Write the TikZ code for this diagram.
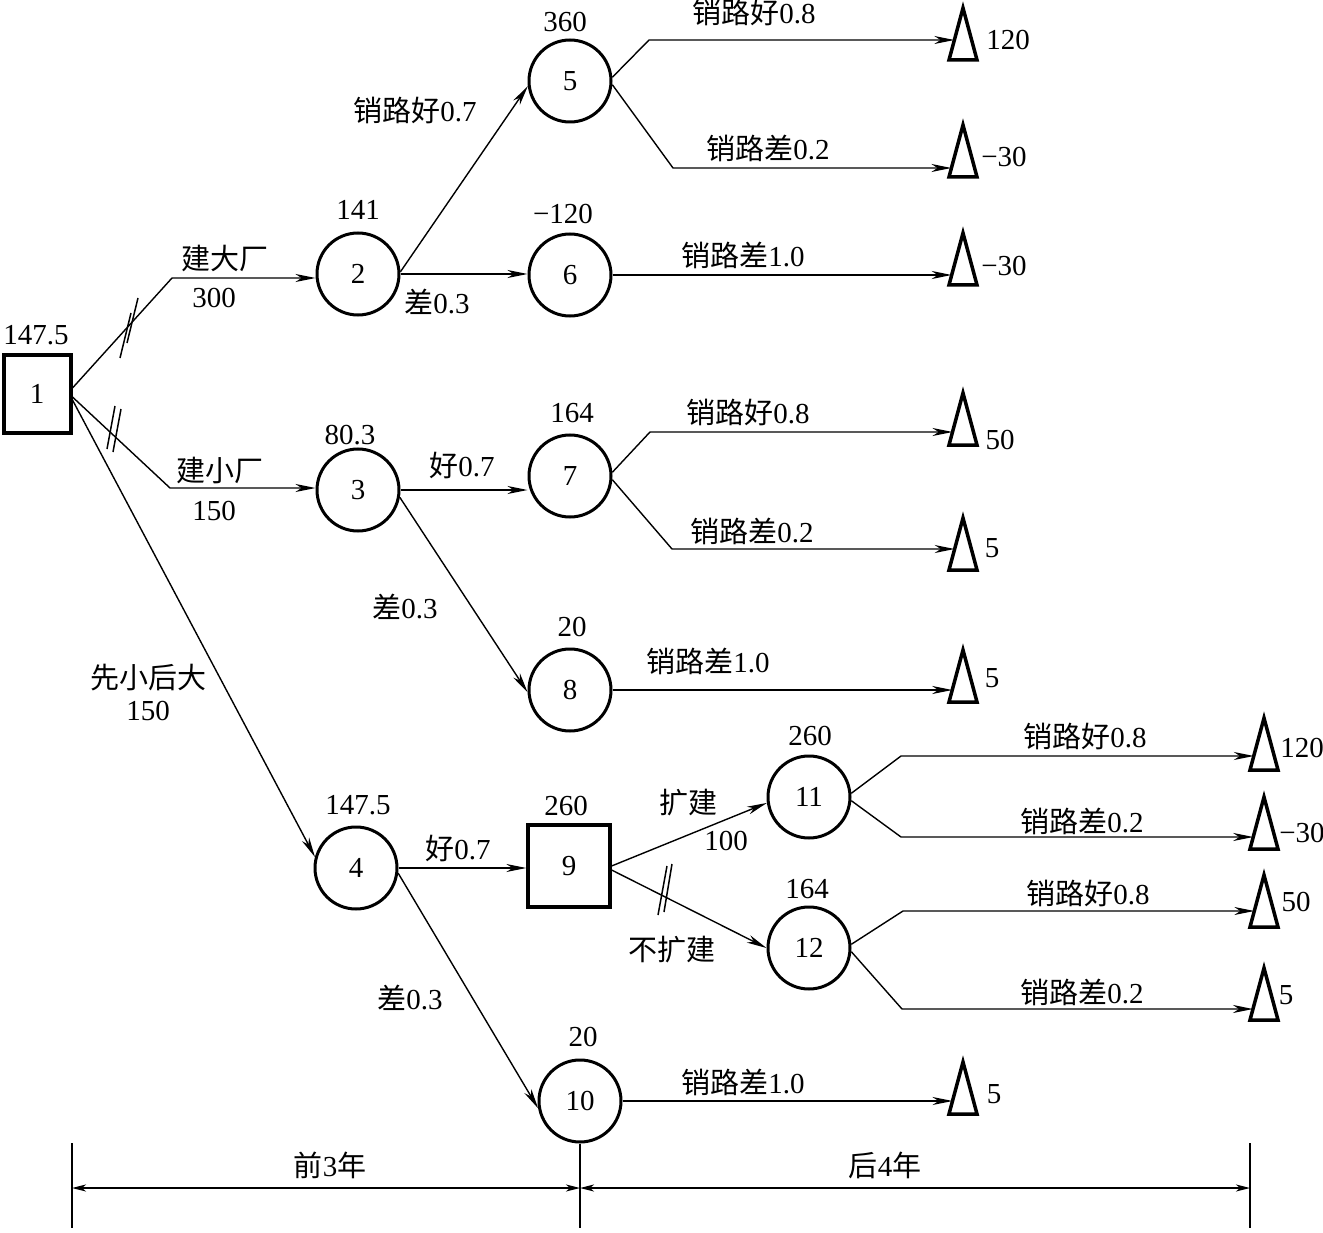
\documentclass[tikz,border=0pt]{standalone}
\usepackage{fontspec}
\setmainfont{Liberation Serif}
\newfontfamily\cjk{Noto Sans CJK SC}
\usetikzlibrary{shapes.geometric,arrows.meta,calc}
\begin{document}
\begin{tikzpicture}[x=1pt,y=-1pt,
  txt/.style={inner sep=0pt,font=\fontsize{29}{32}\selectfont},
  circ/.style={circle,draw,line width=3pt,minimum size=82pt,inner sep=0pt,font=\fontsize{29}{32}\selectfont},
  sqone/.style={rectangle,draw,line width=4pt,minimum width=67pt,minimum height=78pt,inner sep=0pt,font=\fontsize{29}{32}\selectfont},
  sqnine/.style={rectangle,draw,line width=3.2pt,minimum size=82pt,inner sep=0pt,font=\fontsize{29}{32}\selectfont},
  tri/.style={isosceles triangle,isosceles triangle stretches,rotate=90,draw,line width=3.5pt,
              minimum width=28pt,minimum height=52pt,inner sep=0pt,outer sep=0pt,anchor=apex},
  conn/.style={line width=1.4pt},
  arr/.style={conn,-{Stealth[length=20pt,width=8pt,inset=6pt]}},
  slash/.style={line width=1.5pt},
  dim/.style={line width=2pt,{Stealth[length=14pt,width=7pt,inset=4pt]}-{Stealth[length=14pt,width=7pt,inset=4pt]}}
]
\useasboundingbox (0,0) rectangle (1323,1233);

% ---- decision / chance nodes
\node[sqone] (n1) at (37,394) {1};
\node[circ] (n2) at (358,274) {2};
\node[circ] (n3) at (358,490) {3};
\node[circ] (n4) at (356,868) {4};
\node[circ] (n5) at (570,81) {5};
\node[circ] (n6) at (570,275) {6};
\node[circ] (n7) at (570,476) {7};
\node[circ] (n8) at (570,690) {8};
\node[sqnine] (n9) at (569,866) {9};
\node[circ] (n10) at (580,1101) {10};
\node[circ] (n11) at (809,797) {11};
\node[circ] (n12) at (809,948) {12};

% ---- node values
\node[txt] (v1) at (36,335) {147.5};
\node[txt] (v2) at (358,210) {141};
\node[txt] (v3) at (350,435) {80.3};
\node[txt] (v4) at (358,805) {147.5};
\node[txt] (v5) at (565,22) {360};
\node[txt] (v6) at (563,214) {−120};
\node[txt] (v7) at (572,413) {164};
\node[txt] (v8) at (572,627) {20};
\node[txt] (v9) at (566,806) {260};
\node[txt] (v10) at (583,1037) {20};
\node[txt] (v11) at (810,736) {260};
\node[txt] (v12) at (807,889) {164};

% ---- terminal triangles
\node[tri] (t1) at (963,8) {};
\node[tri] (t2) at (963,125) {};
\node[tri] (t3) at (963,233) {};
\node[tri] (t4) at (963,393) {};
\node[tri] (t5) at (963,518) {};
\node[tri] (t6) at (963,650) {};
\node[tri] (t7) at (1264,718) {};
\node[tri] (t8) at (1264,797) {};
\node[tri] (t9) at (1264,875) {};
\node[tri] (t10) at (1264,968) {};
\node[tri] (t11) at (963,1062) {};

\node[txt] (r1) at (1008,40) {120};
\node[txt] (r2) at (1004,157) {−30};
\node[txt] (r3) at (1004,266) {−30};
\node[txt] (r4) at (1000,440) {50};
\node[txt] (r5) at (992,548) {5};
\node[txt] (r6) at (992,678) {5};
\node[txt] (r7) at (1302,748) {120};
\node[txt] (r8) at (1302,833) {−30};
\node[txt] (r9) at (1296,902) {50};
\node[txt] (r10) at (1286,995) {5};
\node[txt] (r11) at (994,1094) {5};

% ---- bend points
\coordinate (b12) at (172,278);
\coordinate (b13) at (170,488);
\coordinate (b5a) at (649,40);
\coordinate (b5b) at (673,168);
\coordinate (b7a) at (650,432);
\coordinate (b7b) at (672,549);
\coordinate (b11a) at (901,756);
\coordinate (b11b) at (901,837);
\coordinate (b12a) at (903,911);
\coordinate (b12b) at (902,1009);

% ---- arrow ends on triangles
\path (b5a) ++(100,0) coordinate (h1);
\coordinate (e1) at (intersection of b5a--h1 and t1.apex--t1.left corner);
\path (b5b) ++(100,0) coordinate (h2);
\coordinate (e2) at (intersection of b5b--h2 and t2.apex--t2.left corner);
\path (n6) ++(100,0) coordinate (h3);
\coordinate (e3) at (intersection of n6.center--h3 and t3.apex--t3.left corner);
\path (b7a) ++(100,0) coordinate (h4);
\coordinate (e4) at (intersection of b7a--h4 and t4.apex--t4.left corner);
\path (b7b) ++(100,0) coordinate (h5);
\coordinate (e5) at (intersection of b7b--h5 and t5.apex--t5.left corner);
\path (n8) ++(100,0) coordinate (h6);
\coordinate (e6) at (intersection of n8.center--h6 and t6.apex--t6.left corner);
\path (b11a) ++(100,0) coordinate (h7);
\coordinate (e7) at (intersection of b11a--h7 and t7.apex--t7.left corner);
\path (b11b) ++(100,0) coordinate (h8);
\coordinate (e8) at (intersection of b11b--h8 and t8.apex--t8.left corner);
\path (b12a) ++(100,0) coordinate (h9);
\coordinate (e9) at (intersection of b12a--h9 and t9.apex--t9.left corner);
\path (b12b) ++(100,0) coordinate (h10);
\coordinate (e10) at (intersection of b12b--h10 and t10.apex--t10.left corner);
\path (n10) ++(100,0) coordinate (h11);
\coordinate (e11) at (intersection of n10.center--h11 and t11.apex--t11.left corner);

% ---- connectors
\draw[arr] ([yshift=6pt]n1.east) -- (b12) -- (n2.west |- b12);
\draw[arr] ([yshift=-3pt]n1.east) -- (b13) -- (n3.west |- b13);
\draw[arr] ([yshift=-6pt]n1.east) -- (n4.165);

\draw[arr] (n2.3) -- (n5.187);
\draw[arr] (n2.east) -- (n6.west |- n2.east);
\draw[arr] (n3.east) -- (n7.west |- n3.east);
\draw[arr] (n3.-10) -- (n8.183);
\draw[arr] (n4.east) -- (n9.west |- n4.east);
\draw[arr] (n4.-7) -- (n10.190);
\draw[arr] (n9.east) -- (n11.188);
\draw[arr] ([yshift=-4pt]n9.east) -- (n12.west);

\draw[arr] (n5.5) -- (b5a) -- (e1);
\draw[arr] (n5.-5) -- (b5b) -- (e2);
\draw[arr] (n6.east) -- (e3);
\draw[arr] (n7.5) -- (b7a) -- (e4);
\draw[arr] (n7.-5) -- (b7b) -- (e5);
\draw[arr] (n8.east) -- (e6);
\draw[arr] (n11.5) -- (b11a) -- (e7);
\draw[arr] (n11.-5) -- (b11b) -- (e8);
\draw[arr] (n12.5) -- (b12a) -- (e9);
\draw[arr] (n12.-5) -- (b12b) -- (e10);
\draw[arr] (n10.east) -- (e11);

% ---- cut marks
\draw[slash] (120,358) -- (131,313);
\draw[slash] (127,343) -- (138,298);
\draw[slash] (107,449) -- (115,406);
\draw[slash] (113,452) -- (121,409);
\draw[slash] (658,915) -- (667,866);
\draw[slash] (664,912) -- (672,864);

% ---- branch labels
\node[txt] (l1) at (225,258) {{\cjk 建大厂}};
\node[txt] (l2) at (214,298) {300};
\node[txt] (l3) at (220,470) {{\cjk 建小厂}};
\node[txt] (l4) at (214,511) {150};
\node[txt] (l5) at (148,678) {{\cjk 先小后大}};
\node[txt] (l6) at (148,711) {150};
\node[txt] (l7) at (415,110) {{\cjk 销路好}0.7};
\node[txt] (l8) at (437,302) {{\cjk 差}0.3};
\node[txt] (l9) at (754,12) {{\cjk 销路好}0.8};
\node[txt] (l10) at (768,148) {{\cjk 销路差}0.2};
\node[txt] (l11) at (743,255) {{\cjk 销路差}1.0};
\node[txt] (l12) at (462,465) {{\cjk 好}0.7};
\node[txt] (l13) at (748,412) {{\cjk 销路好}0.8};
\node[txt] (l14) at (752,531) {{\cjk 销路差}0.2};
\node[txt] (l15) at (405,607) {{\cjk 差}0.3};
\node[txt] (l16) at (708,661) {{\cjk 销路差}1.0};
\node[txt] (l17) at (458,848) {{\cjk 好}0.7};
\node[txt] (l18) at (688,803) {{\cjk 扩建}};
\node[txt] (l19) at (726,841) {100};
\node[txt] (l20) at (672,950) {{\cjk 不扩建}};
\node[txt] (l21) at (410,998) {{\cjk 差}0.3};
\node[txt] (l22) at (743,1082) {{\cjk 销路差}1.0};
\node[txt] (l23) at (1085,736) {{\cjk 销路好}0.8};
\node[txt] (l24) at (1082,821) {{\cjk 销路差}0.2};
\node[txt] (l25) at (1088,893) {{\cjk 销路好}0.8};
\node[txt] (l26) at (1082,992) {{\cjk 销路差}0.2};

% ---- time scale
\coordinate (dlt) at (72,1143);
\coordinate (dlb) at (72,1228);
\coordinate (dmb) at (580,1228);
\coordinate (drt) at (1250,1143);
\coordinate (drb) at (1250,1228);
\coordinate (dl) at (72,1188);
\coordinate (dm) at (580,1188);
\coordinate (dr) at (1250,1188);
\draw[conn] (dlt) -- (dlb);
\draw[conn] (n10.south) -- (dmb);
\draw[conn] (drt) -- (drb);
\draw[dim] (dl) -- (dm);
\draw[dim] (dm) -- (dr);
\node[txt] (p1) at (330,1165) {{\cjk 前}3{\cjk 年}};
\node[txt] (p2) at (885,1165) {{\cjk 后}4{\cjk 年}};
\end{tikzpicture}
\end{document}
